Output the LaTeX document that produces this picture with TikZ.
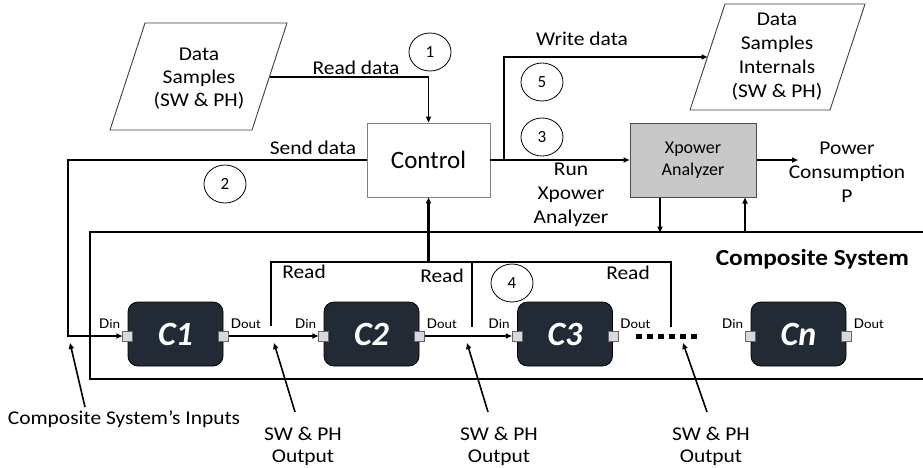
\documentclass[tikz,border=0pt]{standalone}
\usepackage{fontspec}
\setmainfont{Carlito}[FakeStretch=1.1]
\newfontfamily\plainf{Carlito}
\usetikzlibrary{arrows.meta,shapes.geometric}
\definecolor{cdark}{HTML}{222A35}
\definecolor{xpfill}{HTML}{C8C8C8}
\newcommand{\sm}[1]{{\fontsize{13}{13}\selectfont #1}}
\begin{document}
\begin{tikzpicture}[x=1pt,y=-1pt,
  txt/.style={font=\fontsize{19.5}{23}\selectfont, align=center, inner sep=0pt},
  conn/.style={line width=1.6pt, -{Triangle[length=6pt,width=5pt]}},
  wire/.style={line width=2pt},
  num/.style={ellipse, draw, line width=0.8pt, minimum width=42pt, minimum height=38pt, inner sep=0pt, font=\plainf\fontsize{17}{17}\selectfont},
  cbox/.style={rounded corners=10pt, fill=cdark, draw=black, line width=0.8pt, minimum width=95pt, minimum height=64pt, text=white, font=\plainf\fontsize{34}{34}\selectfont\bfseries\itshape, inner sep=0pt},
  port/.style={rectangle, fill=gray!30, draw=gray!80!black, line width=0.6pt, minimum size=10pt, inner sep=0pt},
  dlab/.style={inner sep=0pt, font=\fontsize{15}{15}\selectfont},
  para/.style={draw=black!75, line width=0.9pt}
]
\useasboundingbox (0,0) rectangle (923,467);
\fill[white] (0,0) rectangle (923,467);

% data samples (input)
\draw[para] (145,23) -- (287,23) -- (252,130) -- (110,130) -- cycle;
\node[txt] (ds1) at (199,79) {Data\\Samples\\(SW \& PH)};
\coordinate (ds1r) at (269.5,77);

% data samples internals (output)
\draw[para] (725,4) -- (865,4) -- (830,110) -- (690,110) -- cycle;
\node[txt, font=\fontsize{19.5}{24}\selectfont] (ds2) at (777,57) {Data\\Samples\\Internals\\(SW \& PH)};
\coordinate (ds2l) at (707.5,57);

% control
\node[draw=gray, line width=0.9pt, minimum width=123pt, minimum height=74pt, inner sep=0pt, font=\plainf\fontsize{25}{25}\selectfont] (ctrl) at (428.5,160) {Control};

% xpower
\node[draw=black!70, fill=xpfill, line width=1pt, minimum width=126pt, minimum height=74pt, txt, font=\plainf\fontsize{18}{22}\selectfont] (xp) at (693,160) {Xpower\\Analyzer};

% step numbers
\node[num] (n1) at (430,52) {1};
\node[num] (n2) at (225,184) {2};
\node[num] (n3) at (542,137) {3};
\node[num] (n4) at (512,283) {4};
\node[num] (n5) at (542,82) {5};

% composite system frame
\draw[wire] (930,232) -- (90,232) -- (90,379) -- (930,379);
\node[inner sep=0pt, anchor=base east, font=\fontsize{23}{23}\selectfont\bfseries] (cs) at (909,265) {Composite System};

% components
\node[cbox] (c1) at (175.5,334) {C1};
\node[cbox] (c2) at (371.5,334) {C2};
\node[cbox] (c3) at (565,334) {C3};
\node[cbox] (cn) at (798.5,334) {Cn};
\foreach \c in {c1,c2,c3,cn}{
  \node[port] (\c i) at ([yshift=-2pt]\c.west) {};
  \node[port] (\c o) at ([yshift=-2pt]\c.east) {};
  \node[dlab, anchor=base east] (\c di) at ([shift={(-2pt,2pt)}]\c i.north west) {D\sm{in}};
  \node[dlab, anchor=base west] (\c do) at ([shift={(2pt,2pt)}]\c o.north east) {D\sm{out}};
}

% connectors
\draw[conn] (ds1r) -| (ctrl.north);
\node[txt, anchor=base] (l1) at (356,74) {Read data};

\draw[conn, line width=2pt] (ctrl.west) -- ++(-299,0) |- (c1i.west);
\node[txt, anchor=base] (l2) at (313,154) {Send data};

\coordinate (br) at (504,160);
\draw[line width=2.6pt] (ctrl.east) -- (br);
\draw[conn] (br) -- (xp.west);
\draw[conn] (br) |- (ds2l);
\node[txt, anchor=base] (l5) at (582,45) {Write data};
\node[txt, font=\fontsize{19.5}{24}\selectfont] (l3) at (571,195) {Run\\Xpower\\Analyzer};

\coordinate (pw) at (798,160);
\draw[conn] (xp.east) -- (pw);
\node[txt, font=\fontsize{19.5}{24}\selectfont] (l6) at (847,172) {Power\\Consumption\\P};

\draw[conn] ([xshift=-33pt]xp.south) -- ++(0,35);
\draw[conn] ([xshift=52pt]xp.south) ++(0,35) -- ++(0,-35);

% read bus
\coordinate (bus) at (428.5,262);
\draw[wire] (271,326) |- (671,262) -- (671,327);
\draw[wire] (472,262) -- (472,327);
\draw[conn, line width=2.2pt] (bus) -- (ctrl.south);
\node[txt, anchor=base] (r1) at (304,278) {Read};
\node[txt, anchor=base] (r2) at (442,282) {Read};
\node[txt, anchor=base] (r3) at (628,279) {Read};

% data flow between components
\draw[conn, line width=1.3pt] (c1o.east) -- (c2i.west);
\draw[conn, line width=1.3pt] (c2o.east) -- (c3i.west);
\draw[line width=5pt, dash pattern=on 6pt off 5pt] ([xshift=18pt]c3o.east) -- ++(64,0);

% annotations
\node[txt, anchor=base] (inl) at (124,424) {Composite System’s Inputs};
\coordinate (t0) at (70,343);
\draw[conn] (85,407) -- (t0);

\node[txt, anchor=north, font=\fontsize{19.5}{22}\selectfont] (o1) at (303,427) {SW \& PH\\Output};
\node[txt, anchor=north, font=\fontsize{19.5}{22}\selectfont] (o2) at (499,427) {SW \& PH\\Output};
\node[txt, anchor=north, font=\fontsize{19.5}{22}\selectfont] (o3) at (711,427) {SW \& PH\\Output};
\coordinate (t1) at (274,343);
\coordinate (t2) at (467,343);
\coordinate (t3) at (683,343);
\draw[conn] ([shift={(-8pt,15pt)}]o1.north) -- (t1);
\draw[conn] ([shift={(-11pt,15pt)}]o2.north) -- (t2);
\draw[conn] ([shift={(-4pt,15pt)}]o3.north) -- (t3);
\end{tikzpicture}
\end{document}
